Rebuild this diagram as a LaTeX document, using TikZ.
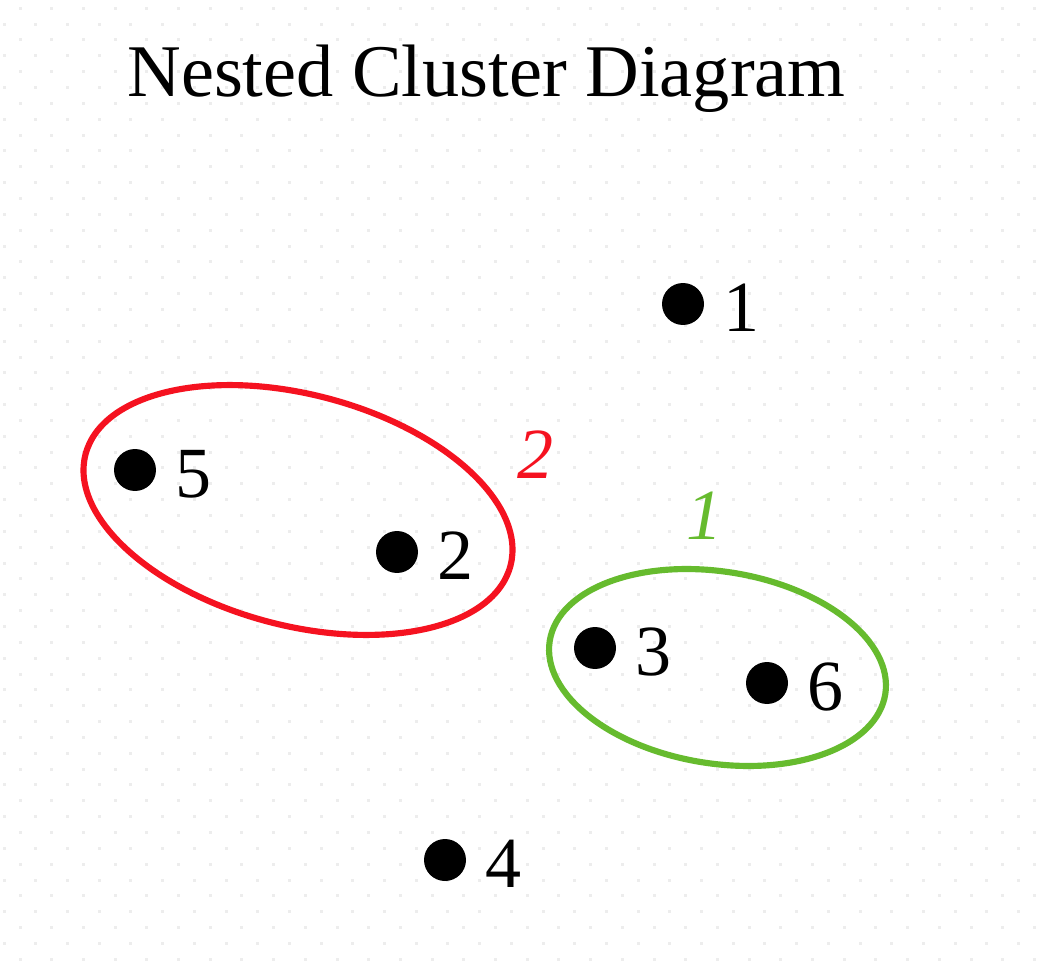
\documentclass[tikz,border=0pt]{standalone}
\usepackage{fontspec}
\setmainfont{Liberation Serif}
\usepackage{tikz}
\definecolor{clusred}{RGB}{245,18,32}
\definecolor{clusgreen}{RGB}{102,187,46}
\tikzset{
  pt/.style={circle, fill=black, inner sep=0pt, minimum size=0.84cm,
    label={[lbl]0:#1}},
  lbl/.style={font=\fontsize{41}{41}\selectfont, inner sep=0pt,
    label distance=0.38cm, yshift=-0.08cm},
  clus/.style={line width=3.5pt},
  cname/.style={font=\fontsize{41}{41}\selectfont\itshape, inner sep=0pt},
  bgdot/.style={fill=black!7}
}

\begin{document}
\begin{tikzpicture}[x=0.02cm, y=-0.02cm]
  \useasboundingbox (0,0) rectangle (1048,966);
  \fill[white] (0,0) rectangle (1048,966);
  % dotted paper
  \foreach \j in {0,...,61} {
    \foreach \i in {0,...,33} {
      \pgfmathsetmacro\xx{20+31.7*\i-15.85*mod(\j,2)}
      \pgfmathsetmacro\yy{8.3+15.85*\j}
      \fill[bgdot] (\xx-1.5,\yy-1.5) rectangle ++(3,3);
    }
  }
  \node[anchor=base west, inner sep=0pt, font=\fontsize{42.3}{42.3}\selectfont]
    (title) at (127,97) {Nested Cluster Diagram};

  \node[pt=1] (1) at (683,304) {};
  \node[pt=5] (5) at (135,470) {};
  \node[pt=2] (2) at (397,552) {};
  \node[pt=3] (3) at (595,648) {};
  \node[pt=6] (6) at (767,683) {};
  \node[pt=4] (4) at (445,860) {};

  % clusters
  \coordinate (k2) at (298,510);
  \coordinate (k1) at (717.5,667.5);
  \draw[clus, clusred] (k2) ellipse [x radius=4.394cm, y radius=2.312cm, rotate=-14.7];
  \draw[clus, clusgreen] (k1) ellipse [x radius=3.398cm, y radius=1.92cm, rotate=-9];
  \node[cname, text=clusred] (c2) at (536,455) {2};
  \node[cname, text=clusgreen] (c1) at (704,516) {1};
\end{tikzpicture}
\end{document}
